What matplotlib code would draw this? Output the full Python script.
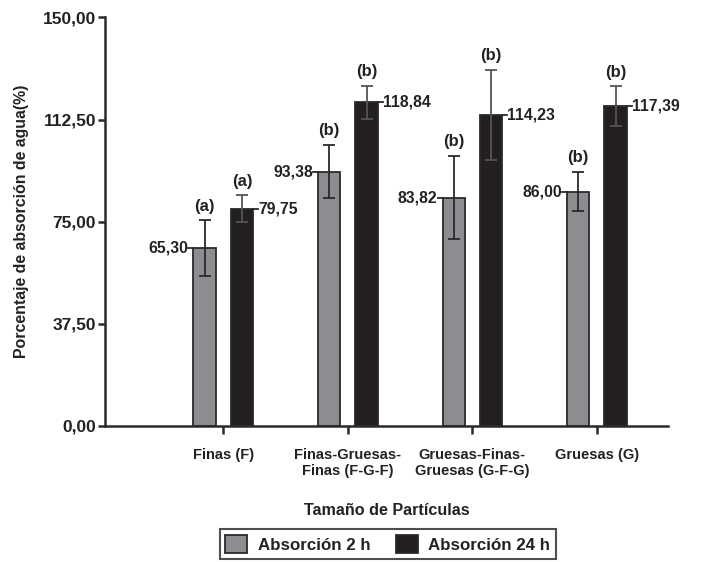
import matplotlib
matplotlib.use("Agg")
import matplotlib.pyplot as plt
import numpy as np
from matplotlib.patches import Patch

categories = ["Finas (F)", "Finas-Gruesas-\nFinas (F-G-F)", "Gruesas-Finas-\nGruesas (G-F-G)", "Gruesas (G)"]
abs_2h = [65.30, 93.38, 83.82, 86.00]
abs_24h = [79.75, 118.84, 114.23, 117.39]
err_2h = [10.2, 9.8, 15.2, 7.2]
err_24h = [4.9, 6.0, 16.5, 7.3]
letters_2h = ["(a)", "(b)", "(b)", "(b)"]
letters_24h = ["(a)", "(b)", "(b)", "(b)"]
yticks = [0, 37.5, 75, 112.5, 150]

plt.rcParams['font.family'] = ['Liberation Sans', 'DejaVu Sans']
plt.rcParams['font.weight'] = 'bold'

fig = plt.figure(figsize=(7.19, 5.62), dpi=100)
ax = fig.add_axes([0.146, 0.242, 0.783, 0.727])

gray = "#8b8d90"
black = "#231f20"
edge = "#2a2a2a"
txt = "#222222"
x = np.arange(len(categories))
off = 0.15
w = 0.18

ax.bar(x - off, abs_2h, w, color=gray, edgecolor=edge, linewidth=1.3, zorder=2)
ax.bar(x + off, abs_24h, w, color=black, edgecolor=edge, linewidth=1.3, zorder=2)
ax.errorbar(x - off, abs_2h, yerr=err_2h, fmt='none', ecolor=edge, elinewidth=1.3,
            capsize=4.5, capthick=1.3, zorder=3)
ax.errorbar(x + off, abs_24h, yerr=err_24h, fmt='none', ecolor="#555555", elinewidth=1.3,
            capsize=4.5, capthick=1.3, zorder=3)

def fmt(v):
    return f"{v:.2f}".replace(".", ",")

for i in range(len(categories)):
    xl = x[i] - off - w / 2
    ax.plot([xl - 0.04, xl], [abs_2h[i], abs_2h[i]], color=edge, lw=1.3, zorder=3, clip_on=False)
    ax.text(xl - 0.04, abs_2h[i], fmt(abs_2h[i]), ha='right', va='center', fontsize=11.3,
            fontweight='bold', color=txt)
    xr = x[i] + off + w / 2
    ax.plot([xr, xr + 0.04], [abs_24h[i], abs_24h[i]], color=edge, lw=1.3, zorder=3, clip_on=False)
    ax.text(xr + 0.04, abs_24h[i], fmt(abs_24h[i]), ha='left', va='center', fontsize=11.3,
            fontweight='bold', color=txt)
    ax.text(x[i] - off, abs_2h[i] + err_2h[i] + 2.5, letters_2h[i], ha='center', va='bottom',
            fontsize=12, fontweight='bold', color=txt)
    ax.text(x[i] + off, abs_24h[i] + err_24h[i] + 2.5, letters_24h[i], ha='center', va='bottom',
            fontsize=12, fontweight='bold', color=txt)

ax.set_xlim(-0.95, 3.57)
ax.set_ylim(0, 150)
ax.set_yticks(yticks)
ax.set_yticklabels([fmt(v) for v in yticks], fontsize=12.5, fontweight='bold', color=txt)
ax.set_xticks(x)
ax.set_xticklabels(categories, fontsize=10.5, fontweight='bold', color=txt)
ax.tick_params(axis='x', length=6, width=1.8, pad=10, color=edge)
ax.tick_params(axis='y', length=5, width=1.8, pad=1.5, color=edge)
for s in ['top', 'right']:
    ax.spines[s].set_visible(False)
for s in ['left', 'bottom']:
    ax.spines[s].set_linewidth(1.8)
    ax.spines[s].set_color(edge)

ax.set_ylabel("Porcentaje de absorción de agua(%)", fontsize=11.4, fontweight='bold', color=txt, labelpad=10)
ax.set_xlabel("Tamaño de Partículas", fontsize=11.6, fontweight='bold', color=txt, labelpad=18)

handles = [Patch(facecolor=gray, edgecolor=edge, linewidth=1.3, label="Absorción 2 h"),
           Patch(facecolor=black, edgecolor=edge, linewidth=1.3, label="Absorción 24 h")]
leg = fig.legend(handles=handles, loc='center', bbox_to_anchor=(0.539, 0.032), ncol=2,
                 frameon=True, fancybox=False, edgecolor=txt, fontsize=12.2,
                 handlelength=1.3, handleheight=1.3, columnspacing=1.5, handletextpad=0.6,
                 borderpad=0.35)
leg.get_frame().set_linewidth(1.5)
for t in leg.get_texts():
    t.set_fontweight('bold')
    t.set_color(txt)

fig.savefig("out.png", dpi=100)
